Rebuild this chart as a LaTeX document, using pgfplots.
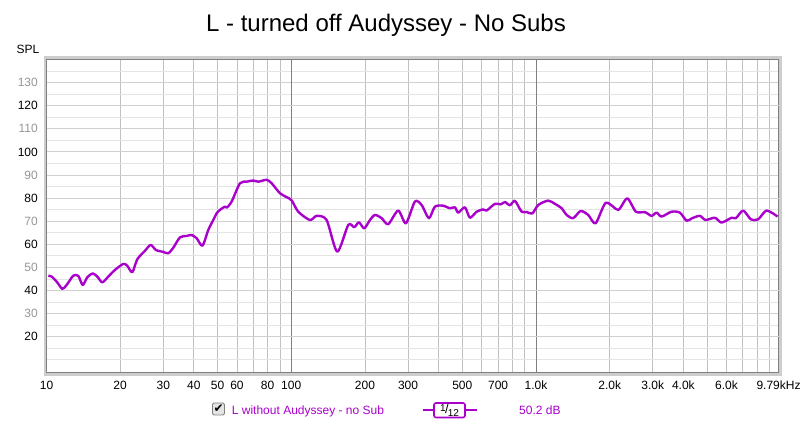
\documentclass[border=0pt]{standalone}
\usepackage{pgfplots}
\pgfplotsset{compat=1.18}
\usepackage{fontspec}
\setmainfont{Liberation Sans}
\newfontfamily\symfont{DejaVu Sans}

\definecolor{trace}{RGB}{170,0,204}
\definecolor{gridA}{RGB}{176,176,176}
\definecolor{gridB}{RGB}{208,208,208}
\definecolor{gridC}{RGB}{228,228,228}
\definecolor{gridV}{RGB}{192,192,192}
\definecolor{gridD}{RGB}{128,128,128}
\definecolor{labgrey}{RGB}{150,150,150}

\pgfplotstableread{
f      spl
10.17  46.4
10.50  46.0
11.01  43.8
11.60  40.7
12.09  42.4
12.87  46.4
13.49  46.3
14.05  42.4
14.68  45.7
15.44  47.4
16.13  46.0
16.90  43.5
17.88  46.0
19.05  48.9
20.60  51.5
21.38  50.7
22.41  47.9
23.49  53.5
25.26  57.2
26.65  59.7
28.02  57.5
30.01  56.7
31.45  56.1
32.96  58.5
35.11  63.0
37.38  63.6
39.18  64.0
41.07  62.6
43.37  59.4
45.81  66.2
48.01  70.5
49.57  73.4
51.14  74.9
53.60  76.3
54.62  75.9
57.09  78.5
61.72  86.4
65.74  87.1
69.95  87.6
73.33  87.1
79.35  87.9
83.17  86.4
89.93  82.1
95.78  80.4
100.4  79.0
106.8  74.1
119.2  70.5
127.0  72.3
139.5  70.5
154.1  56.8
171.0  68.4
180.9  67.4
189.1  69.5
198.7  66.9
209.7  70.5
219.8  72.7
234.0  71.3
249.0  68.7
273.5  74.6
294.1  69.1
320.1  78.5
341.0  77.0
365.2  71.3
386.4  76.3
417.8  76.7
444.9  75.6
466.4  76.0
481.1  73.7
512.3  76.0
537.0  71.5
571.9  74.1
608.5  75.1
628.3  74.6
679.4  77.5
718.9  77.3
746.5  78.3
782.4  76.9
820.1  78.8
873.4  74.1
915.4  74.0
965.1  73.3
1021   77.0
1121   78.9
1195   77.5
1272   75.6
1334   72.7
1419   71.3
1521   74.4
1634   72.7
1752   69.1
1930   78.0
2167   74.9
2358   79.9
2559   74.1
2786   73.9
2967   72.3
3109   73.7
3259   72.0
3580   74.1
3871   73.7
4124   70.2
4346   71.3
4672   72.3
4930   70.5
5380   71.5
5731   69.4
6296   71.5
6556   71.3
7022   74.6
7548   70.8
8084   70.8
8750   74.6
9703   72.0
}\spldata

\begin{document}
\begin{tikzpicture}
\useasboundingbox[fill=white] (0,0) rectangle (800bp,424bp);
% shadow border around the plot area
\draw[line width=3bp, color=gridV!80] (45bp,49.8bp) rectangle (780bp,366bp);
\begin{axis}[
    name=ax,
    at={(46.5bp,51.3bp)}, anchor=south west,
    scale only axis,
    width=732bp, height=313.2bp,
    xmode=log,
    xmin=10, xmax=9790,
    ymin=4.4, ymax=140,
    axis background/.style={fill=white},
    axis line style={draw=gridD, line width=0.8bp},
    font=\fontsize{12bp}{14bp}\selectfont,
    /pgf/number format/assume math mode=true,
    major tick length=0pt, minor tick length=0pt,
    xtick={10,20,30,40,50,60,80,100,200,300,500,700,1000,2000,3000,4000,6000,9790},
    xticklabels={10,20,30,40,50,60,80,100,200,300,500,700,1.0k,2.0k,3.0k,4.0k,6.0k,9.79kHz},
    xticklabel style={anchor=north, inner sep=0pt, yshift=-8.3bp},
    minor xtick={20,30,40,50,60,70,80,90,200,300,400,500,600,700,800,900,2000,3000,4000,5000,6000,7000,8000,9000},
    xminorgrids=true,
    minor x grid style={draw=gridV, line width=0.8bp},
    extra x ticks={100,1000},
    extra x tick labels={},
    extra x tick style={grid=major, major grid style={draw=gridD, line width=0.8bp}},
    ytick={20,30,40,50,60,70,80,90,100,110,120,130},
    yticklabels={20,\textcolor{labgrey}{30},40,\textcolor{labgrey}{50},60,\textcolor{labgrey}{70},80,\textcolor{labgrey}{90},100,\textcolor{labgrey}{110},120,\textcolor{labgrey}{130}},
    yticklabel style={anchor=east, inner sep=0pt, xshift=-8.5bp},
    ymajorgrids=true,
    major y grid style={draw=gridB, line width=0.8bp},
    minor ytick={10,15,25,35,45,55,65,75,85,95,105,115,125,135},
    yminorgrids=true,
    minor y grid style={draw=gridC, line width=0.8bp},
    extra y ticks={20,40,60,80,100,120},
    extra y tick labels={},
    extra y tick style={grid=major, major grid style={draw=gridA, line width=0.8bp}},
    clip=true,
  ]
  \addplot[color=trace, line width=2.4bp, smooth, tension=0.45, line join=round]
    table[x=f, y=spl] {\spldata};
\end{axis}
% title and axis name
\node[anchor=base, inner sep=0pt, font=\fontsize{24bp}{28bp}\selectfont] at (386bp,392.3bp) {L - turned off Audyssey - No Subs};
\node[anchor=center, inner sep=0pt, font=\fontsize{12bp}{14bp}\selectfont] at (28bp,374.5bp) {SPL};
% legend strip
\draw[rounded corners=1.5bp, draw=gridD, fill=gridC, line width=0.8bp] (212.5bp,9bp) rectangle (224.5bp,21bp);
\node[inner sep=0pt, font=\symfont\fontsize{12bp}{14bp}\selectfont] at (218.7bp,15.6bp) {✔};
\node[anchor=base west, inner sep=0pt, text=trace, font=\fontsize{12bp}{14bp}\selectfont] at (231.7bp,10bp) {L without Audyssey - no Sub};
\draw[trace, line width=2bp] (422.7bp,14bp) -- (476.7bp,14bp);
\draw[trace, line width=1.6bp, fill=white, rounded corners=2bp] (434bp,6.5bp) rectangle (465bp,21bp);
\node[inner sep=0pt, font=\fontsize{10bp}{11bp}\selectfont] at (449.5bp,13.8bp) {\raisebox{2.2bp}{1}\kern-0.6bp{\fontsize{13bp}{13bp}\selectfont /}\kern-0.8bp\raisebox{-2.6bp}{12}};
\node[anchor=base west, inner sep=0pt, text=trace, font=\fontsize{12bp}{14bp}\selectfont] at (519bp,10bp) {50.2 dB};
\end{tikzpicture}
\end{document}
